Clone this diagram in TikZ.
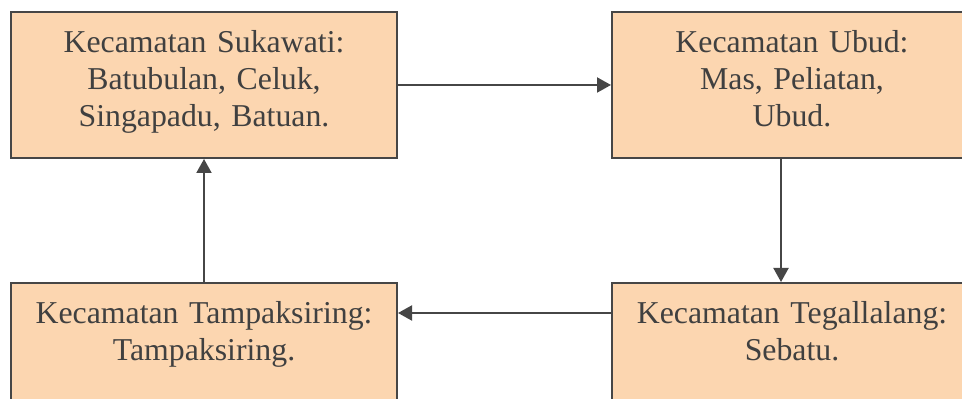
\documentclass[tikz,border=0pt]{standalone}
\usepackage{fontspec}
\setmainfont{Liberation Serif}
\usetikzlibrary{arrows.meta,positioning}
\definecolor{boxfill}{RGB}{252,214,176}
\definecolor{linegray}{RGB}{70,70,70}
\definecolor{textgray}{RGB}{64,64,64}

\begin{document}
\begin{tikzpicture}[x=0.5pt, y=-0.5pt,
  font=\fontsize{15.9}{18.5}\selectfont,
  kec/.style={draw=linegray, line width=1pt, fill=boxfill, text=textgray,
    anchor=north west, align=center, inner sep=0pt,
    text height=20.5pt, text depth=52.5pt},
  flow/.style={draw=linegray, line width=1pt, -{Triangle[length=7pt,width=7.5pt]}}]
  \useasboundingbox[fill=white] (0,0) rectangle (962,399);

  \node[kec, text width=193pt] (sukawati) at (10,11)
    {Kecamatan Sukawati:\\ Batubulan, Celuk,\\ Singapadu, Batuan.};
  \node[kec, text width=180pt] (ubud) at (611,11)
    {Kecamatan Ubud:\\ Mas, Peliatan,\\ Ubud.};
  \node[kec, text width=193pt] (tampaksiring) at (10,282)
    {Kecamatan Tampaksiring:\\ Tampaksiring.};
  \node[kec, text width=180pt] (tegallalang) at (611,282)
    {Kecamatan Tegallalang:\\ Sebatu.};

  \draw[flow] (sukawati.east) -- (ubud.west);
  \draw[flow] ([xshift=-5.5pt]ubud.south) -- ([xshift=-5.5pt]tegallalang.north);
  \draw[flow] ([yshift=-15.5pt]tegallalang.north west) -- ([yshift=-15.5pt]tampaksiring.north east);
  \draw[flow] (tampaksiring.north) -- (sukawati.south);
\end{tikzpicture}
\end{document}
